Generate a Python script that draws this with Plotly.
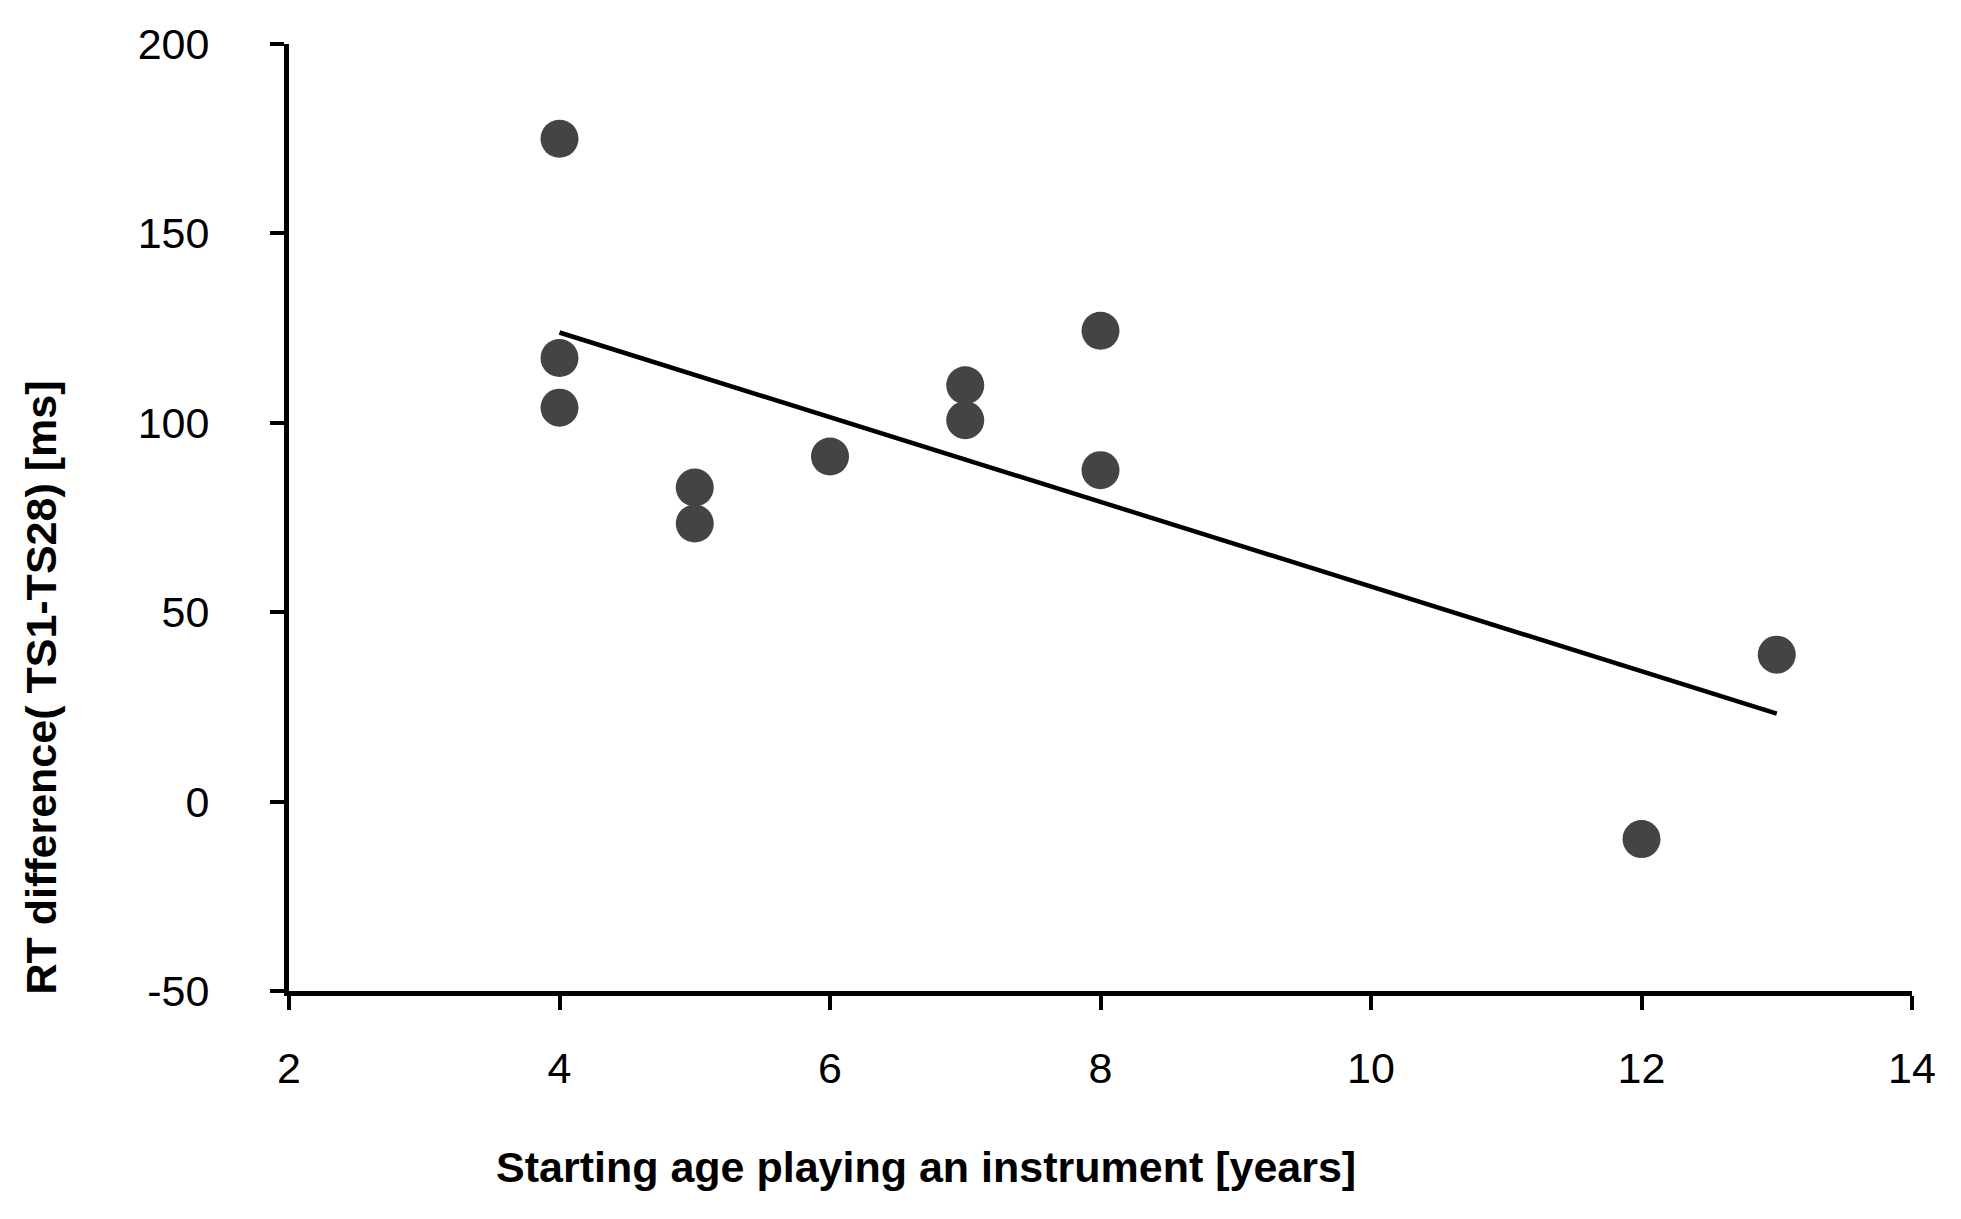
import numpy as np
import plotly.graph_objects as go

start_age = [4, 4, 4, 5, 5, 6, 7, 7, 8, 8, 12, 13]
rt_diff = [175, 117.1, 104, 82.9, 73.4, 91.1, 109.9, 100.7, 124.3, 87.5, -9.9, 38.8]
x_ticks = [2, 4, 6, 8, 10, 12, 14]
y_ticks = [-50, 0, 50, 100, 150, 200]
y_tick_text = ["-50", "0", "50", "100", "150", "200"]

slope, intercept = np.polyfit(start_age, rt_diff, 1)
trend_x = [min(start_age), max(start_age)]
trend_y = [slope * v + intercept for v in trend_x]

# figure geometry (page has an 8px body margin)
W, H = 1953, 1211
L, R, T, B = 281, 49, 31, 228
PW, PH = W - L - R, H - T - B


def px_to_paper(px, py):
    fx, fy = px - 8, py - 8
    return (fx - L) / PW, (H - B - fy) / PH


fig = go.Figure()
fig.add_trace(go.Scatter(
    x=start_age, y=rt_diff, mode="markers",
    marker=dict(color="#444444", size=38, symbol="circle", line=dict(width=0)),
    showlegend=False, cliponaxis=False))
fig.add_trace(go.Scatter(
    x=trend_x, y=trend_y, mode="lines",
    line=dict(color="black", width=4.5), showlegend=False))

axis_font = dict(family="Liberation Sans, Arial", size=43, color="black")
xt_x, xt_y = px_to_paper(926, 1168)
yt_x, yt_y = px_to_paper(41, 686)
fig.update_layout(
    width=W, height=H,
    margin=dict(l=L, r=R, t=T, b=B),
    paper_bgcolor="white", plot_bgcolor="white",
    xaxis=dict(range=[2, 14], tickvals=x_ticks, showgrid=False, zeroline=False,
               showline=True, linecolor="black", linewidth=5,
               ticks="outside", ticklen=14, tickwidth=4, tickcolor="black",
               tickfont=axis_font, ticklabelstandoff=21),
    yaxis=dict(range=[-50, 200], tickvals=y_ticks, ticktext=y_tick_text,
               showgrid=False, zeroline=False,
               showline=True, linecolor="black", linewidth=5,
               ticks="outside", ticklen=14, tickwidth=4, tickcolor="black",
               tickfont=axis_font, ticklabelstandoff=52),
    annotations=[
        dict(text="<b>Starting age playing an instrument [years]</b>",
             xref="paper", yref="paper", x=xt_x, y=xt_y,
             xanchor="center", yanchor="middle", showarrow=False,
             font=dict(family="Liberation Sans, Arial", size=43, color="black")),
        dict(text="<b>RT difference( TS1-TS28) [ms]</b>",
             xref="paper", yref="paper", x=yt_x, y=yt_y,
             xanchor="center", yanchor="middle", showarrow=False, textangle=-90,
             font=dict(family="Liberation Sans, Arial", size=43, color="black")),
    ],
)
fig.write_html("out.html")
